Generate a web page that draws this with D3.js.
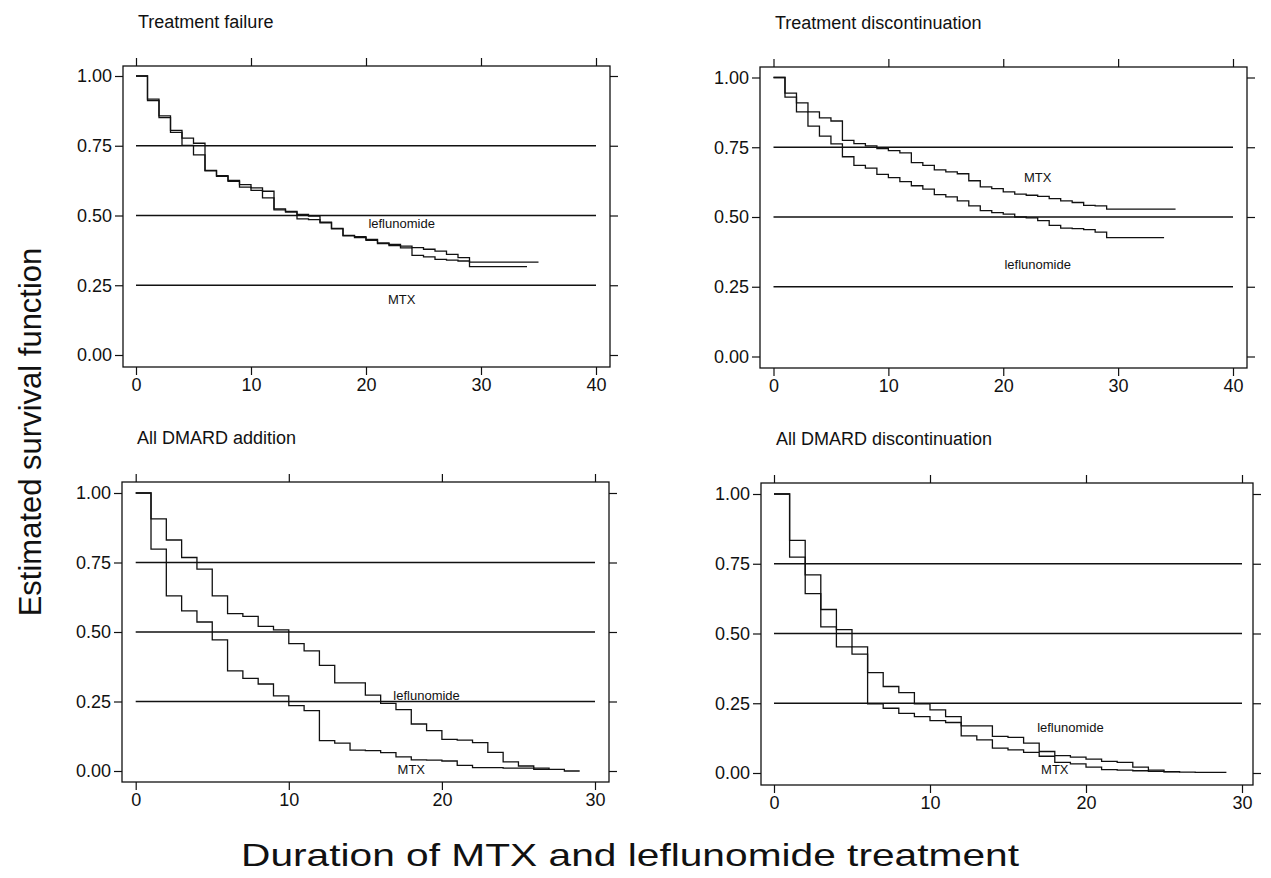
<!DOCTYPE html>
<html>
<head>
<meta charset="utf-8">
<script src="https://d3js.org/d3.v7.min.js"></script>
<style>
  body { margin: 0; background: #fff; }
  text { font-family: "Liberation Sans", Arial, sans-serif; fill: #111; }
</style>
</head>
<body>
<svg id="chart" width="1271" height="878"></svg>
<script>
// ---- data (survival estimate at t = 0,1,2,... ; last step runs to *End) ----
const refLevels = [0.25, 0.5, 0.75];
const yTicks = [0, 0.25, 0.5, 0.75, 1];
const titles = ["Treatment failure", "Treatment discontinuation", "All DMARD addition", "All DMARD discontinuation"];

const tfLef = [1, .917, .857, .805, .777, .759, .662, .643, .626, .611, .599, .587, .524, .515, .504, .498, .476, .454, .429, .424, .414, .402, .396, .390, .385, .379, .372, .361, .349, .333];
const tfMtx = [1, .912, .851, .798, .751, .717, .660, .640, .622, .602, .590, .563, .520, .512, .488, .485, .474, .452, .427, .421, .411, .399, .392, .384, .357, .352, .343, .340, .337, .317];
const tfLefEnd = 35, tfMtxEnd = 34;

const tdMtx = [1, .944, .909, .877, .855, .844, .775, .763, .755, .745, .738, .730, .695, .685, .669, .662, .655, .630, .608, .602, .590, .582, .578, .574, .566, .558, .552, .542, .540, .528];
const tdLef = [1, .930, .877, .826, .790, .762, .716, .685, .675, .653, .641, .627, .612, .600, .580, .572, .558, .540, .523, .516, .510, .500, .497, .487, .470, .460, .458, .455, .446, .426];
const tdMtxEnd = 35, tdLefEnd = 34;

const daMtx = [1, .798, .630, .576, .536, .472, .360, .333, .313, .270, .235, .217, .109, .100, .075, .073, .066, .051, .040, .039, .036, .020, .012, .012, .010, .010, .006];
const daLef = [1, .907, .831, .768, .726, .630, .566, .556, .520, .508, .458, .432, .380, .317, .317, .273, .243, .221, .169, .145, .114, .111, .102, .067, .033, .018, .010, .006, .000];
const daMtxEnd = 27, daLefEnd = 29;

const ddLef = [1, .834, .710, .586, .514, .452, .360, .310, .288, .248, .226, .202, .169, .169, .131, .128, .107, .077, .062, .057, .050, .042, .038, .021, .010, .005, .003, .002, .002];
const ddMtx = [1, .774, .643, .524, .452, .426, .248, .232, .214, .202, .188, .181, .133, .119, .089, .083, .074, .060, .038, .033, .021, .012, .010, .008, .006, .004];
const ddLefEnd = 29, ddMtxEnd = 26;

// curve label positions [t, S]
const tfLabels = [["leflunomide", 23.1, 0.473], ["MTX", 23.1, 0.20]];
const tdLabels = [["MTX", 23.0, 0.643], ["leflunomide", 23.0, 0.329]];
const daLabels = [["leflunomide", 19.0, 0.27], ["MTX", 18.0, 0.007]];
const ddLabels = [["leflunomide", 19.0, 0.164], ["MTX", 18.0, 0.014]];

// ---- layout ----
const panels = [
  {title: titles[0], box: [123, 66, 610, 367], xr: [136, 596], yr: [355, 76], xmax: 40,
   curves: [[tfLef, tfLefEnd], [tfMtx, tfMtxEnd]], labels: tfLabels},
  {title: titles[1], box: [760, 67, 1247, 368], xr: [773.5, 1233], yr: [356.5, 77.5], xmax: 40,
   curves: [[tdMtx, tdMtxEnd], [tdLef, tdLefEnd]], labels: tdLabels},
  {title: titles[2], box: [122, 482, 609, 782], xr: [135.7, 595], yr: [771, 493], xmax: 30,
   curves: [[daMtx, daMtxEnd], [daLef, daLefEnd]], labels: daLabels},
  {title: titles[3], box: [761, 483, 1253, 785], xr: [774, 1242], yr: [773, 494], xmax: 30,
   curves: [[ddLef, ddLefEnd], [ddMtx, ddMtxEnd]], labels: ddLabels}
];

const svg = d3.select("#chart");
const ink = "#111";

const stepLine = d3.line().curve(d3.curveStepAfter);

panels.forEach(p => {
  const x = d3.scaleLinear().domain([0, p.xmax]).range(p.xr);
  const y = d3.scaleLinear().domain([0, 1]).range(p.yr);
  const [bx0, by0, bx1, by1] = p.box;
  const g = svg.append("g");
  const xTicks = d3.range(0, p.xmax + 1, 10);

  // title
  g.append("text")
    .attr("x", bx0 + 15)
    .attr("y", by0 - 38)
    .style("font-size", "18px")
    .text(p.title);

  // box
  g.append("rect")
    .attr("x", bx0).attr("y", by0)
    .attr("width", bx1 - bx0).attr("height", by1 - by0)
    .attr("fill", "none").attr("stroke", ink).attr("stroke-width", 1.3);

  // axes
  const bottom = g.append("g").attr("transform", `translate(0,${by1})`)
    .call(d3.axisBottom(x).tickValues(xTicks).tickSize(8).tickPadding(3).tickSizeOuter(0));
  const left = g.append("g").attr("transform", `translate(${bx0},0)`)
    .call(d3.axisLeft(y).tickValues(yTicks).tickFormat(d3.format(".2f")).tickSize(8).tickPadding(3).tickSizeOuter(0));
  const top = g.append("g").attr("transform", `translate(0,${by0})`)
    .call(d3.axisTop(x).tickValues(xTicks).tickSize(8).tickFormat("").tickSizeOuter(0));
  const right = g.append("g").attr("transform", `translate(${bx1},0)`)
    .call(d3.axisRight(y).tickValues(yTicks).tickSize(8).tickFormat("").tickSizeOuter(0));
  [bottom, left, top, right].forEach(a => {
    a.select(".domain").remove();
    a.selectAll("line").attr("stroke", ink).attr("stroke-width", 1.2);
    a.selectAll("text").style("font-size", "18px").attr("fill", ink)
      .style("font-family", "\"Liberation Sans\", Arial, sans-serif");
  });

  // reference lines
  g.selectAll("line.ref")
    .data(refLevels)
    .join("line")
    .attr("class", "ref")
    .attr("x1", x(0)).attr("x2", x(p.xmax))
    .attr("y1", d => y(d)).attr("y2", d => y(d))
    .attr("stroke", ink).attr("stroke-width", 1.3);

  // survival curves
  p.curves.forEach(([vals, end]) => {
    const pts = vals.map((v, i) => [x(i), y(v)]);
    pts.push([x(end), y(vals[vals.length - 1])]);
    g.append("path")
      .attr("d", stepLine(pts))
      .attr("fill", "none")
      .attr("stroke", ink)
      .attr("stroke-width", 1.3);
  });

  // curve labels
  g.selectAll("text.lab")
    .data(p.labels)
    .join("text")
    .attr("class", "lab")
    .attr("x", d => x(d[1]))
    .attr("y", d => y(d[2]))
    .attr("dy", "0.35em")
    .attr("text-anchor", "middle")
    .style("font-size", "13px")
    .text(d => d[0]);
});

// axis titles
svg.append("text")
  .attr("transform", "translate(41,432) rotate(-90)")
  .attr("text-anchor", "middle")
  .style("font-size", "31px")
  .text("Estimated survival function");

svg.append("text")
  .attr("x", 630)
  .attr("y", 866)
  .attr("text-anchor", "middle")
  .attr("textLength", 778)
  .attr("lengthAdjust", "spacingAndGlyphs")
  .style("font-size", "32px")
  .text("Duration of MTX and leflunomide treatment");
</script>
</body>
</html>
